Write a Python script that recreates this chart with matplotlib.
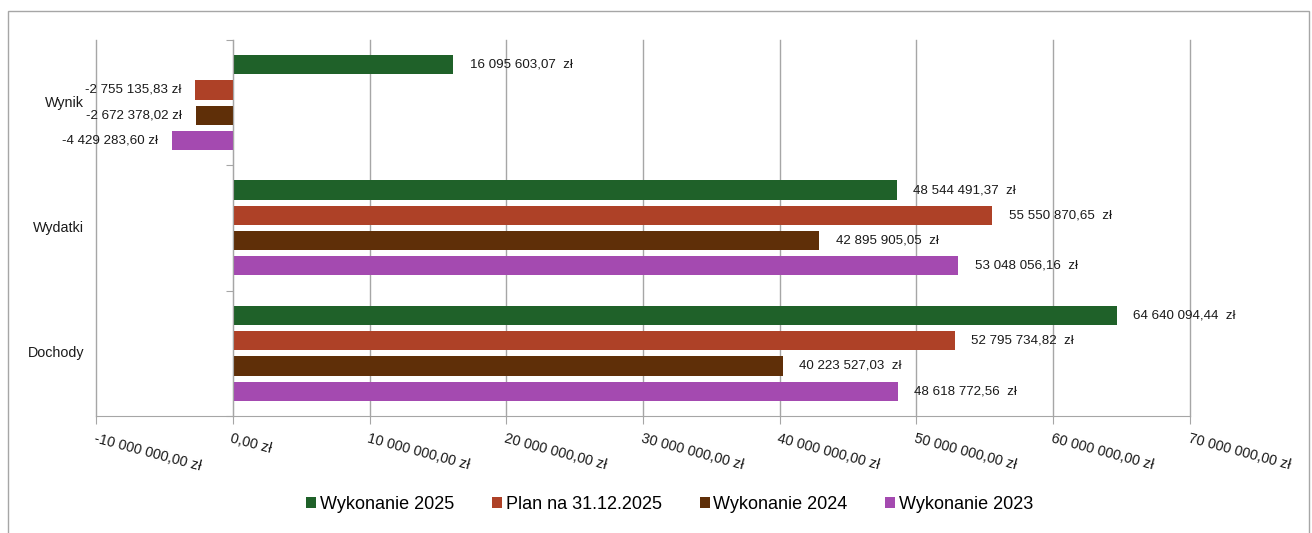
import matplotlib
matplotlib.use("Agg")
import matplotlib.pyplot as plt
from matplotlib.patches import Rectangle
import numpy as np

plt.rcParams["font.family"] = ["Liberation Sans", "DejaVu Sans"]

categories = ["Dochody", "Wydatki", "Wynik"]
series = ["Wykonanie 2025", "Plan na 31.12.2025", "Wykonanie 2024", "Wykonanie 2023"]
colors = ["#1f6129", "#ae4127", "#5f2f08", "#a44ab0"]
wyk_2025 = [64640094.44, 48544491.37, 16095603.07]
plan_2025 = [52795734.82, 55550870.65, -2755135.83]
wyk_2024 = [40223527.03, 42895905.05, -2672378.02]
wyk_2023 = [48618772.56, 53048056.16, -4429283.60]
values = [wyk_2025, plan_2025, wyk_2024, wyk_2023]
x_ticks = np.arange(-10e6, 70e6 + 1, 10e6)


def fmt(v, sep="  "):
    s = f"{abs(v):,.2f}".replace(",", " ").replace(".", ",")
    return ("-" if v < 0 else "") + s + sep + "zł"


fig = plt.figure(figsize=(13.12, 5.33), dpi=100)
fig.patches.append(Rectangle((0.006, -0.01), 0.992, 0.989, transform=fig.transFigure,
                             fill=False, edgecolor="#a6a6a6", lw=1.0))
ax = fig.add_axes([0.0732, 0.2195, 0.8338, 0.7055])

grey = "#a6a6a6"
pitch = 0.202
height = 0.152
y = np.arange(len(categories))
for i, (name, vals, c) in enumerate(zip(series, values, colors)):
    yy = y + (1.5 - i) * pitch
    ax.barh(yy, vals, height=height, color=c, label=name, zorder=3)
    for yv, v in zip(yy, vals):
        if v >= 0:
            ax.annotate(fmt(v), (v, yv), xytext=(12, 0), textcoords="offset points",
                        ha="left", va="center", fontsize=9.6, color="#1a1a1a")
        else:
            ax.annotate(fmt(v, " "), (v, yv), xytext=(-10, 0), textcoords="offset points",
                        ha="right", va="center", fontsize=9.6, color="#1a1a1a")

ax.set_xlim(-10e6, 70e6)
ax.set_ylim(-0.5, 2.5)
ax.set_xticks(x_ticks)
ax.set_xticklabels([fmt(v, " ") if v != 0 else "0,00 zł" for v in x_ticks],
                   rotation=-15, ha="left", va="top", rotation_mode="anchor",
                   fontsize=10.3, color="#1a1a1a")
ax.tick_params(axis="x", length=6, color=grey, pad=5)
for xv in x_ticks:
    ax.axvline(xv, color=grey, lw=1.0, zorder=0, clip_on=False)

ax.spines["left"].set_position(("data", 0))
ax.spines["left"].set_color(grey)
ax.spines["left"].set_zorder(4)
ax.set_yticks([-0.5, 0.5, 1.5, 2.5])
ax.set_yticklabels([])
ax.tick_params(axis="y", length=5, color=grey)
ax.spines["bottom"].set_color(grey)
ax.spines["top"].set_visible(False)
ax.spines["right"].set_visible(False)

for yv, name in zip(y, categories):
    ax.text(-0.011, yv, name, transform=ax.get_yaxis_transform(),
            ha="right", va="center", fontsize=10.3, color="#1a1a1a")

fig.legend(loc="center", bbox_to_anchor=(0.5105, 0.054), ncol=4, frameon=False,
           fontsize=13, handlelength=0.55, handleheight=0.55, handletextpad=0.2,
           columnspacing=2.1)

fig.savefig("out.png", dpi=100)
